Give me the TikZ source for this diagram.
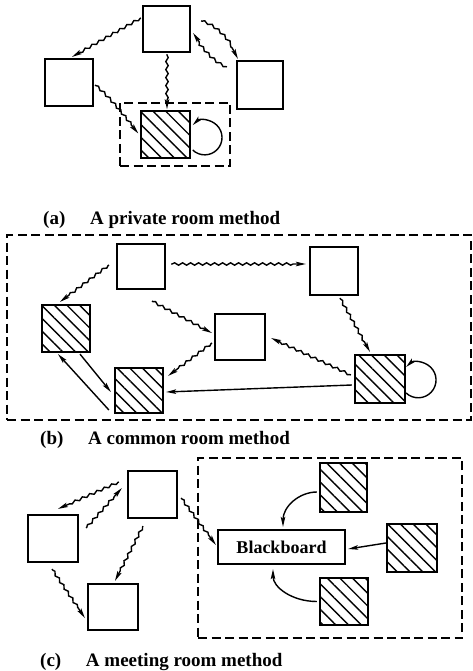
\documentclass[tikz,border=0pt]{standalone}
\usepackage{fontspec}
\setmainfont{Liberation Serif}
\usetikzlibrary{fit,calc,decorations.pathmorphing,arrows.meta,patterns.meta}
\begin{document}
\begin{tikzpicture}[x=1pt,y=-1pt,
  sqbox/.style={draw,line width=2.2pt,inner sep=0pt},
  hbox/.style={sqbox,pattern={Lines[angle=-45,distance=9pt,line width=1.4pt]}},
  room/.style={draw,line width=1.8pt,dash pattern=on 9pt off 4.5pt,inner sep=0pt},
  arrowtip/.style={-{Stealth[length=10pt,width=4.5pt,inset=2pt]}},
  wavy/.style={arrowtip,line width=1.4pt,decorate,decoration={snake,amplitude=1.2pt,segment length=8pt,pre length=1pt,post length=9pt}},
  solidarrow/.style={arrowtip,line width=1.4pt},
  captext/.style={font=\bfseries\fontsize{19}{22}\selectfont,anchor=west,inner sep=0pt},
  bbtext/.style={font=\bfseries\fontsize{18}{20}\selectfont,inner sep=0pt}
]
\useasboundingbox (0,0) rectangle (473,671);

% ---------------- (a) ----------------
\node[room, fit={(120,103)(230,166)}] (rooma) {};
\node[sqbox, fit={(143,6)(190,52)}] (ta) {};
\node[sqbox, fit={(45,59)(93,106)}] (la) {};
\node[sqbox, fit={(237,61)(283,109)}] (ra) {};
\node[hbox, fit={(141,111)(190,158)}] (ha) {};

\draw[wavy] ($(ta.west)+(-1,-11)$) -- ($(la.north)+(3,-1)$);
\draw[wavy] ($(ta.north east)+(10,16)$) .. controls +(15,4) and +(-7,-16) .. ($(ra.north west)+(2,-1)$);
\draw[wavy] ($(ra.north west)+(-9,7)$) .. controls +(-12,-4) and +(7,11) .. ($(ta.east)+(2,4)$);
\draw[wavy] ($(ta.south)+(0.5,1)$) -- ($(ha.north)+(1.5,-1)$);
\draw[wavy] ($(la.east)+(1,2.5)$) .. controls +(15,12) and +(-12,-14) .. ($(ha.west)+(-2,-1)$);
\draw[solidarrow] ($(ha.east)+(2,15.5)$) arc[start angle=134, end angle=-134, radius=17.3];

\node[captext] (capa) at (43,220) {(a)\hspace{1.3em}A private room method};

% ---------------- (b) ----------------
\node[room, fit={(7,235)(471,420)}] (roomb) {};
\node[sqbox, fit={(117,244)(165,289)}] (b1) {};
\node[sqbox, fit={(310,247)(358,295)}] (b2) {};
\node[hbox, fit={(42,305)(90,352)}] (b3) {};
\node[sqbox, fit={(215,314)(265,360)}] (b4) {};
\node[hbox, fit={(115,368)(163,413)}] (b5) {};
\node[hbox, fit={(355,355)(405,403)}] (b6) {};

\draw[wavy] ($(b1.west)+(-7,-1.5)$) -- ($(b3.north)+(-6,-2)$);
\draw[wavy] ($(b1.east)+(5,-2.5)$) -- ($(b2.west)+(-3,-7)$);
\draw[wavy] ($(b1.south)+(11,11)$) -- ($(b4.west)+(-2,-4)$);
\draw[wavy] ($(b2.south)+(6,2)$) -- ($(b6.north)+(-10,-2)$);
\draw[wavy] ($(b6.west)+(-3,-4)$) -- ($(b4.east)+(5,1)$);
\draw[wavy] ($(b4.west)+(-2,6)$) -- ($(b5.north east)+(4,9)$);
\draw[solidarrow] ($(b6.west)+(-2,6)$) -- ($(b5.east)+(2,1.5)$);
\draw[solidarrow] ($(b3.south)+(14,1)$) -- ($(b5.west)+(-3,1.5)$);
\draw[solidarrow] ($(b5.west)+(-5,19.5)$) -- ($(b3.south)+(-8,1)$);
\draw[solidarrow] ($(b6.east)+(0,14)$) arc[start angle=133, end angle=-133, radius=17.8];

\node[captext] (capb) at (40,440) {(b)\hspace{1.3em}A common room method};

% ---------------- (c) ----------------
\node[room, fit={(198,458)(462,638)}] (roomc) {};
\node[sqbox, fit={(128,471)(177,518)}] (c1) {};
\node[sqbox, fit={(28,515)(78,562)}] (c2) {};
\node[sqbox, fit={(88,584)(138,630)}] (c3) {};
\node[sqbox, fit={(218,530)(345,564)}] (bb) {};
\node[bbtext] (bbt) at (bb.center) {Blackboard};
\node[hbox, fit={(320,463)(367,512)}] (c4) {};
\node[hbox, fit={(387,524)(437,572)}] (c5) {};
\node[hbox, fit={(320,578)(368,625)}] (c6) {};

\draw[wavy] ($(c1.west)+(-8,-12.5)$) -- ($(c2.north)+(5,-5)$);
\draw[wavy] ($(c2.east)+(7,-10.5)$) -- ($(c1.west)+(-5,-6.5)$);
\draw[wavy] ($(c1.south)+(-9.5,7)$) -- ($(c3.north)+(2,-2)$);
\draw[wavy] ($(c2.south)+(-1,6)$) -- ($(c3.west)+(-2,11)$);
\draw[wavy] ($(c1.east)+(3,3.5)$) -- ($(bb.west)+(-1,-2)$);
\draw[solidarrow] ($(c4.west)+(-2,4.5)$) .. controls +(-18,0) and +(0,-20) .. ($(bb.north)+(1.5,-2)$);
\draw[solidarrow] ($(c5.west)+(0,-5)$) -- ($(bb.east)+(2,2)$);
\draw[solidarrow] ($(c6.west)+(-2,0)$) .. controls +(-25,0) and +(0,18) .. ($(bb.south)+(-8.5,4)$);

\node[captext] (capc) at (40,662) {(c)\hspace{1.3em}A meeting room method};
\end{tikzpicture}
\end{document}
